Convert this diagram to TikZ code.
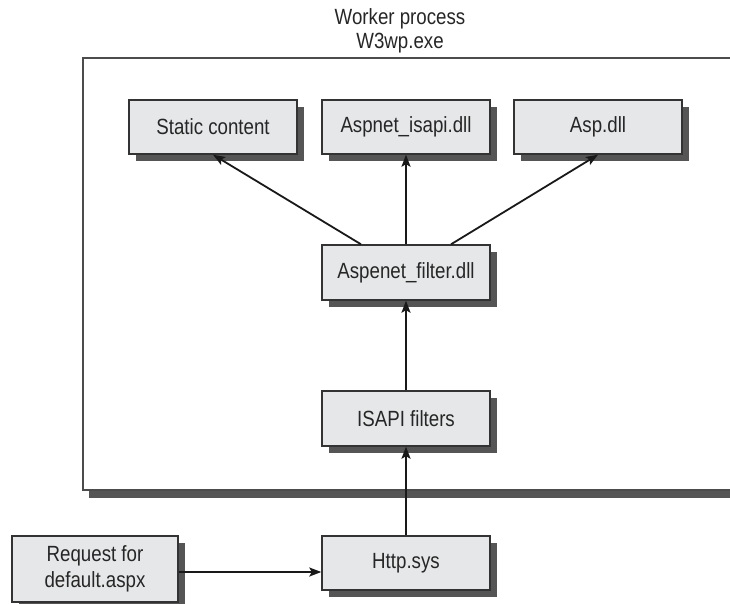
\documentclass[tikz,border=0pt]{standalone}
\usepackage{fontspec}
\setmainfont{Liberation Sans}[FakeStretch=0.85]
\usetikzlibrary{arrows.meta,shadows}
\definecolor{boxfill}{HTML}{E6E7E8}
\definecolor{boxline}{HTML}{333333}
\definecolor{shadowgray}{HTML}{555555}
\tikzset{
  procbox/.style={draw=boxline, line width=1.4pt, fill=boxfill, minimum width=168pt,
    minimum height=54pt, inner sep=0pt, align=center, font=\fontsize{22}{25}\selectfont,
    text=black!85,
    drop shadow={shadow xshift=7pt, shadow yshift=-7pt, fill=shadowgray, opacity=1}},
  flow/.style={line width=1.8pt, draw=black!90, -{Stealth[length=12pt,width=9pt,inset=2.5pt]}},
  titletext/.style={font=\fontsize{22}{26}\selectfont, text=black!85, inner sep=0pt}
}
\begin{document}
\begin{tikzpicture}[x=1pt,y=-1pt]
\useasboundingbox (0,0) rectangle (730,603);
\clip (0,0) rectangle (730,603);
% outer worker process box
\fill[fill=shadowgray] (89,64) rectangle (760,498);
\fill[fill=white] (83,58) rectangle (752,490);
\draw[draw=black!70, line width=1.3pt] (752,490) -- (83,490) -- (83,58) -- (752,58);
\node[titletext] (t1) at (400,19) {Worker process};
\node[titletext] (t2) at (400,43) {W3wp.exe};
% nodes
\node[procbox] (static) at (213,127) {Static content};
\node[procbox] (isapi) at (406,127) {Aspnet\_isapi.dll};
\node[procbox] (asp) at (598,127) {Asp.dll};
\node[procbox, minimum height=55pt] (filter) at (406,272.5) {Aspenet\_filter.dll};
\node[procbox, minimum height=55pt] (filters) at (406,418.5) {ISAPI filters};
\node[procbox] (http) at (406,563) {Http.sys};
\node[procbox, minimum width=166pt, minimum height=66pt, font=\fontsize{22}{26}\selectfont] (request) at (95,569) {Request for\\default.aspx};
% connectors
\draw[flow] ([xshift=-45pt]filter.north) -- (static.south);
\draw[flow] (filter.north) -- (isapi.south);
\draw[flow] ([xshift=45pt]filter.north) -- (asp.south);
\draw[flow] (filters.north) -- (filter.south);
\draw[flow] (http.north) -- (filters.south);
\draw[flow] ([yshift=-3pt]request.east) -- ([yshift=-3pt]request.east -| http.west);
\end{tikzpicture}
\end{document}
